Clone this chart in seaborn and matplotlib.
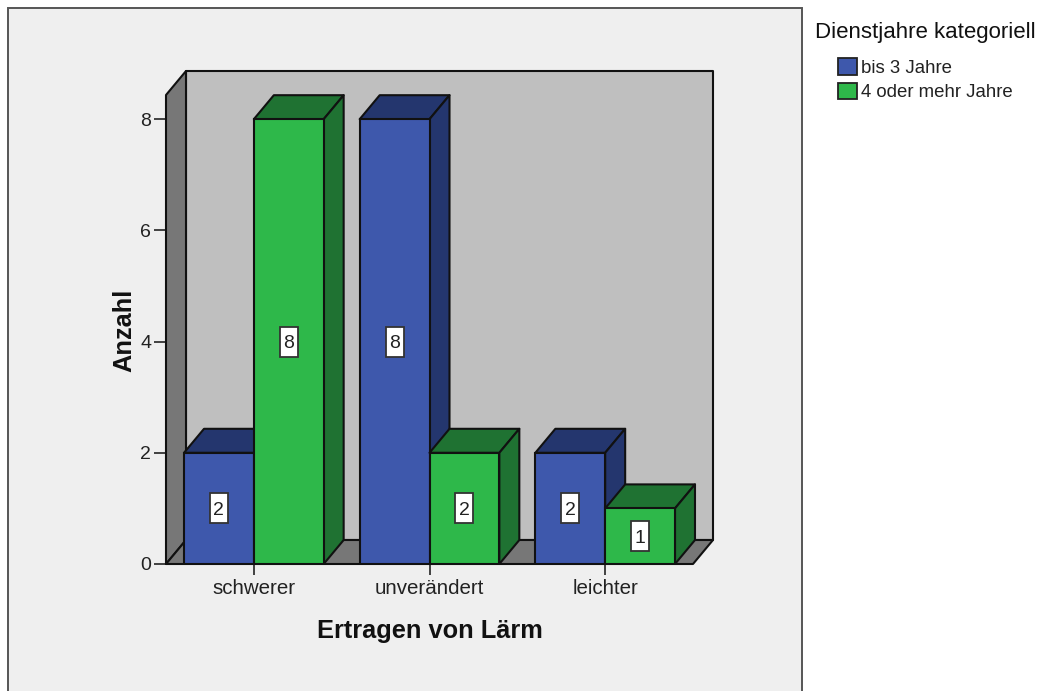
import matplotlib
matplotlib.use("Agg")
import matplotlib.pyplot as plt
from matplotlib.patches import Polygon, Rectangle
import pandas as pd
import seaborn as sns

categories = ["schwerer", "unverändert", "leichter"]
series_names = ["bis 3 Jahre", "4 oder mehr Jahre"]
short_service = [2, 8, 2]
long_service = [8, 2, 1]
y_ticks = [0, 2, 4, 6, 8]

BLUE, BLUE_DARK = "#3E58AC", "#24366E"
GREEN, GREEN_DARK = "#2EB84A", "#1F7232"
WALL, SIDE, PANEL = "#BFBFBF", "#777777", "#EFEFEF"
LINE = "#111111"
EDGE_WIDTH = 1.5

W, H = 1039, 691
sns.set_style("white")
plt.rcParams["font.family"] = ["Liberation Sans", "DejaVu Sans"]

df = pd.DataFrame({
    "kategorie": categories * 2,
    "dienstjahre": [series_names[0]] * 3 + [series_names[1]] * 3,
    "anzahl": short_service + long_service,
})

fig = plt.figure(figsize=(W / 100, H / 100), dpi=100, facecolor="white")

# Grey chart panel, open towards the lower edge of the figure
fig.add_artist(Rectangle((8 / W, -0.02), 793.5 / W, 1.02 - 7.5 / H,
                         transform=fig.transFigure, facecolor=PANEL,
                         edgecolor="#555555", linewidth=1.4, zorder=-1))

ax = fig.add_axes([166 / W, 1 - 564 / H, 527 / W, 469 / H])
ax.patch.set_alpha(0)

sns.barplot(data=df, x="kategorie", y="anzahl", hue="dienstjahre",
            order=categories, hue_order=series_names,
            palette=[BLUE, GREEN], saturation=1, width=0.795, gap=0,
            edgecolor=LINE, linewidth=EDGE_WIDTH, ax=ax)

ax.set_xlim(-0.5, 2.5)
ax.set_ylim(0, 469 / 55.6)

# Oblique depth of the pseudo-3D box, in data units
dx = 20 / (527 / 3)
dy = 24 / 55.6
x0, x1 = ax.get_xlim()
y0, y1 = ax.get_ylim()


def face(points, color, z):
    ax.add_patch(Polygon(points, closed=True, facecolor=color, edgecolor=LINE,
                         linewidth=EDGE_WIDTH, joinstyle="round", zorder=z,
                         clip_on=False))


face([(x0 + dx, y0 + dy), (x1 + dx, y0 + dy), (x1 + dx, y1 + dy), (x0 + dx, y1 + dy)], WALL, 0.5)
face([(x0, y0), (x0 + dx, y0 + dy), (x0 + dx, y1 + dy), (x0, y1)], SIDE, 0.6)
face([(x0, y0), (x1, y0), (x1 + dx, y0 + dy), (x0 + dx, y0 + dy)], SIDE, 0.6)

# Extrude each bar, left to right so that later bars cover earlier ones
bars = sorted((p for p in ax.patches
               if isinstance(p, Rectangle) and p.get_height() > 0),
              key=lambda p: p.get_x())
shade = {BLUE: BLUE_DARK, GREEN: GREEN_DARK}
for i, bar in enumerate(bars):
    left, width, value = bar.get_x(), bar.get_width(), bar.get_height()
    right = left + width
    z = 2 + i
    dark = shade[matplotlib.colors.to_hex(bar.get_facecolor()).upper()]
    face([(left, value), (right, value), (right + dx, value + dy), (left + dx, value + dy)], dark, z)
    face([(right, 0), (right + dx, dy), (right + dx, value + dy), (right, value)], dark, z)
    bar.set_zorder(z + 0.1)

    # White value tag in the middle of the front face
    cx = left + width / 2
    tag_w, tag_h = 18 / (527 / 3), 30 / 55.6
    ax.add_patch(Rectangle((cx - tag_w / 2, value / 2 - tag_h / 2), tag_w, tag_h,
                           facecolor="white", edgecolor="#333333", linewidth=1.3,
                           zorder=20))
    ax.text(cx, value / 2, f"{value:.0f}", ha="center", va="center_baseline",
            fontsize=14, color="#222222", zorder=21)

sns.despine(ax=ax, left=True, bottom=True)
ax.set_yticks(y_ticks)
ax.set_xticks(range(len(categories)), categories)
ax.tick_params(axis="y", length=8.6, width=1.3, color="#333333", pad=2,
               labelsize=14, labelcolor="#222222", left=True)
ax.tick_params(axis="x", length=8, width=1.3, color="#333333", pad=2.5,
               labelsize=14.8, labelcolor="#222222", bottom=True)

ax.set_xlabel("Ertragen von Lärm", fontsize=18.3, fontweight="bold", color="#111111", va="center")
ax.xaxis.set_label_coords(0.5, -67 / 469)
ax.set_ylabel("Anzahl", fontsize=18.3, fontweight="bold", color="#111111", va="center")
ax.yaxis.set_label_coords(-42 / 527, 234 / 469)

handles, labels = ax.get_legend_handles_labels()
leg = ax.legend(handles, labels, title="Dienstjahre kategoriell",
                loc="upper left", bbox_to_anchor=(838 / W, 1 - 22 / H),
                bbox_transform=fig.transFigure, frameon=False, borderpad=0,
                borderaxespad=0, alignment="left", fontsize=13.4,
                title_fontsize=16, handlelength=1.0, handleheight=1.0,
                handletextpad=0.25, labelspacing=0.3)
leg._legend_box.sep = 11
leg.get_title().set_color("#111111")
leg.get_title().set_position((-23, 0))
for text in leg.get_texts():
    text.set_color("#222222")
for handle in leg.get_patches():
    handle.set_edgecolor("#222222")
    handle.set_linewidth(1.3)

fig.savefig("out.png", dpi=100, facecolor="white")
